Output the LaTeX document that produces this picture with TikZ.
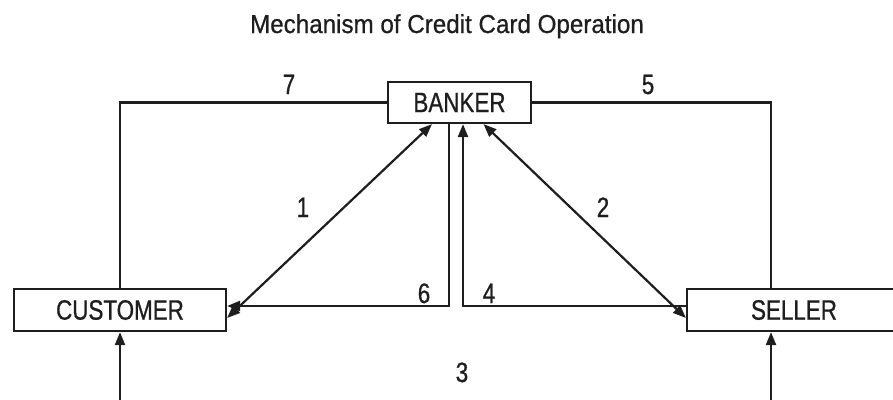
\documentclass[tikz,border=0pt]{standalone}
\usepackage{fontspec}
\setmainfont{Liberation Sans}
\newfontfamily\condfont[FakeStretch=0.8,FakeBold=0.8]{Liberation Sans}
\newfontfamily\titlefont[FakeStretch=0.93,FakeBold=0.7]{Liberation Sans}
\usetikzlibrary{arrows.meta}
\definecolor{ink}{RGB}{30,30,30}
\begin{document}
\begin{tikzpicture}[x=1pt,y=-1pt,
  tip/.tip={Triangle[length=13pt,width=10pt]},
  box/.style={draw=ink, line width=2.2pt, rectangle, inner sep=0pt, font=\condfont\fontsize{28}{30}\selectfont, text=ink},
  lbl/.style={inner sep=0pt, anchor=base, font=\condfont\fontsize{28}{30}\selectfont, text=ink},
  conn/.style={draw=ink, line width=2.2pt}]
\useasboundingbox (0,0) rectangle (893,399);
\clip (0,0) rectangle (893,399);
\node[inner sep=0pt, anchor=base, font=\titlefont\fontsize{26}{28}\selectfont, text=ink] (title) at (447,33) {Mechanism of Credit Card Operation};
\node[box, minimum width=143pt, minimum height=41pt] (banker) at (459.5,102.5) {BANKER};
\node[box, minimum width=212pt, minimum height=42pt] (customer) at (120,310) {CUSTOMER};
\node[box, minimum width=214pt, minimum height=42pt] (seller) at (794,310) {SELLER};
\coordinate (cb) at (120,410);
\coordinate (sb) at (771,410);
% 7 and 5
\draw[conn] (banker.west) -| (customer.north);
\draw[conn] (banker.east) -| ([xshift=-23pt]seller.north);
% 1 and 2
\draw[conn, {tip}-{tip}] ([yshift=-8pt]customer.east) -- ([xshift=-27.5pt]banker.south);
\draw[conn, {tip}-{tip}] ([xshift=24pt]banker.south) -- ([yshift=-8pt]seller.west);
% 6 and 4
\draw[conn, -{tip}] ([xshift=-10.5pt]banker.south) |- ([yshift=4pt]customer.east);
\draw[conn, -{tip}] ([yshift=4pt]seller.west) -| ([xshift=3.5pt]banker.south);
% 3
\draw[conn, -{tip}] (cb) -- (customer.south);
\draw[conn, -{tip}] (sb) -- (sb |- seller.south);
% labels
\node[lbl] (l7) at (289,94) {7};
\node[lbl] (l5) at (648,94) {5};
\node[lbl] (l1) at (303,217) {1};
\node[lbl] (l2) at (603,217) {2};
\node[lbl] (l6) at (424,303) {6};
\node[lbl] (l4) at (489,303) {4};
\node[lbl] (l3) at (462,382) {3};
\end{tikzpicture}
\end{document}
